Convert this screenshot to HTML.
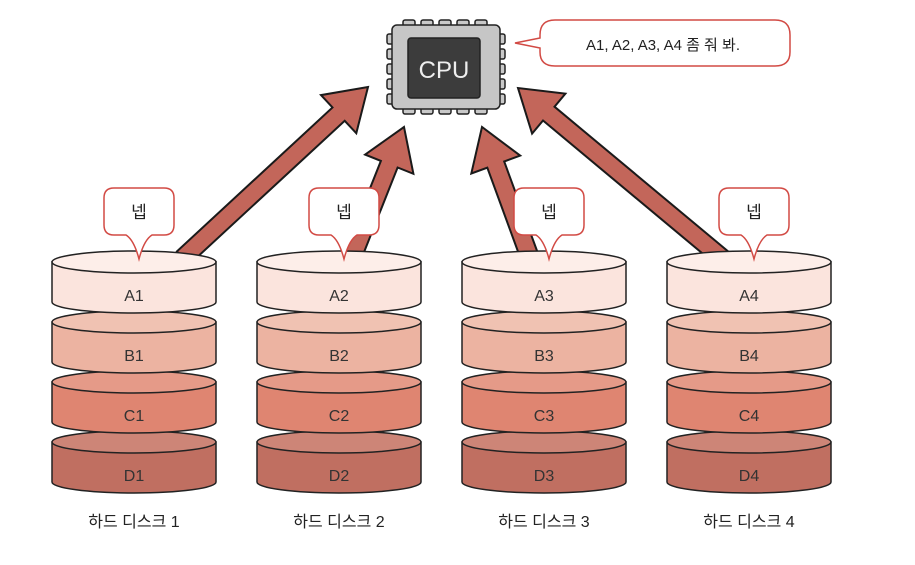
<!DOCTYPE html>
<html><head><meta charset="utf-8"><style>
html,body{margin:0;padding:0;background:#fff;}
svg{display:block;}
text{font-family:"Liberation Sans","Noto Sans CJK KR",sans-serif;}
</style></head><body>
<svg id="s" width="915" height="565" viewBox="0 0 915 565" xmlns="http://www.w3.org/2000/svg">
<g id="arrows"></g>
<g stroke="#222" stroke-width="1.5">
  <g id="pins" fill="#c9c9c9"></g>
  <rect x="392" y="25" width="108" height="84" rx="5" fill="#c6c6c6"/>
  <rect x="408" y="38" width="72" height="60" rx="3" fill="#3c3c3c"/>
</g>
<text x="444" y="78" font-size="24" fill="#eee" text-anchor="middle">CPU</text>
<path d="M555 20 H775 Q790 20 790 35 V52 Q790 66 775 66 H555 Q540 66 540 52 V48 L515 43 L540 38 V35 Q540 20 555 20 Z" fill="#fff" stroke="#d24a44" stroke-width="1.5"/>
<text x="663" y="50" font-size="15" fill="#222" text-anchor="middle">A1, A2, A3, A4 좀 줘 봐.</text>
<g id="disks"></g>
</svg>
<script>
var ns="http://www.w3.org/2000/svg";
function el(p,t,a,txt){var e=document.createElementNS(ns,t);for(var k in a)e.setAttribute(k,a[k]);if(txt)e.textContent=txt;p.appendChild(e);return e;}
var pins=document.getElementById('pins');
for(var i=0;i<5;i++){var x=403+i*18;el(pins,'rect',{x:x,y:20,width:12,height:8,rx:2});el(pins,'rect',{x:x,y:106,width:12,height:8,rx:2});}
for(var i=0;i<5;i++){var y=34+i*15;el(pins,'rect',{x:387,y:y,width:8,height:10,rx:2});el(pins,'rect',{x:497,y:y,width:8,height:10,rx:2});}
var ag=document.getElementById('arrows');
function arrow(x1,y1,x2,y2){var dx=x2-x1,dy=y2-y1,L=Math.hypot(dx,dy),ux=dx/L,uy=dy/L,nx=-uy,ny=ux;var w=9,hw=26,hl=40;
var bx=x2-ux*hl,by=y2-uy*hl;
var p=[[x1+nx*w,y1+ny*w],[bx+nx*w,by+ny*w],[bx+nx*hw,by+ny*hw],[x2,y2],[bx-nx*hw,by-ny*hw],[bx-nx*w,by-ny*w],[x1-nx*w,y1-ny*w]];
el(ag,'polygon',{points:p.map(function(q){return q[0].toFixed(1)+','+q[1].toFixed(1)}).join(' '),fill:'#c3665a',stroke:'#1a1a1a','stroke-width':2,'stroke-linejoin':'miter'});}
arrow(183,258,368,87);arrow(352,258,404,127);arrow(530,258,482,127);arrow(722,258,518,88);
var dg=document.getElementById('disks');
var cx=[134,339,544,749],names=['A','B','C','D'],cols=['#fbe4dd','#ecb3a1','#df8571','#c06f61'],tops=['#fdeee9','#f0c2b2','#e59a88','#cd8577'];
for(var d=0;d<4;d++){var c=cx[d],l=c-82,r=c+82;
 for(var j=3;j>=0;j--){var T=262+j*60,B=T+40,ry=11;
  el(dg,'path',{d:'M'+l+' '+T+' V'+B+' A82 '+ry+' 0 0 0 '+r+' '+B+' V'+T+' Z',fill:cols[j],stroke:'#222','stroke-width':1.5});
  el(dg,'ellipse',{cx:c,cy:T,rx:82,ry:ry,fill:tops[j],stroke:'#222','stroke-width':1.5});
  el(dg,'text',{x:c,y:T+39,'font-size':16,fill:'#333','text-anchor':'middle'},names[j]+(d+1));
 }
 el(dg,'text',{x:c,y:527,'font-size':16,fill:'#222','text-anchor':'middle'},'하드 디스크 '+(d+1));
 var bc=c+5,bx=bc-35,by=188;
 el(dg,'path',{d:'M'+(bx+10)+' '+by+' H'+(bx+60)+' Q'+(bx+70)+' '+by+' '+(bx+70)+' '+(by+10)+' V'+(by+37)+' Q'+(bx+70)+' '+(by+47)+' '+(bx+60)+' '+(by+47)+' H'+(bx+48)+' Q'+(bc+5)+' '+(by+52)+' '+bc+' '+(by+71)+' Q'+(bc-5)+' '+(by+52)+' '+(bx+22)+' '+(by+47)+' H'+(bx+10)+' Q'+bx+' '+(by+47)+' '+bx+' '+(by+37)+' V'+(by+10)+' Q'+bx+' '+by+' '+(bx+10)+' '+by+' Z',fill:'#fff',stroke:'#d24a44','stroke-width':1.5});
 el(dg,'text',{x:bc,y:by+30,'font-size':17,fill:'#222','text-anchor':'middle'},'넵');
}
</script>
</body></html>
